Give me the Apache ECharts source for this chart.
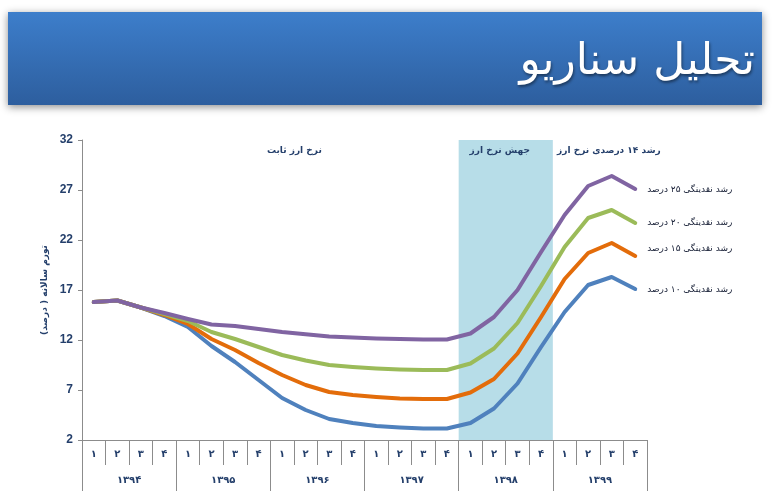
<!DOCTYPE html>
<html>
<head>
<meta charset="utf-8">
<script src="https://cdn.jsdelivr.net/npm/echarts@6/dist/echarts.min.js"></script>
<style>
html,body{margin:0;padding:0;background:#fff;}
#chart{width:772px;height:504px;}
</style>
</head>
<body>
<div id="chart"></div>
<script>
// ---- data ----
var titleText = 'تحلیل سناریو';
var yAxisName = 'تورم سالانه ( درصد)';
var quarters = ['۱','۲','۳','۴','۱','۲','۳','۴','۱','۲','۳','۴','۱','۲','۳','۴','۱','۲','۳','۴','۱','۲','۳','۴'];
var years = ['۱۳۹۴','۱۳۹۵','۱۳۹۶','۱۳۹۷','۱۳۹۸','۱۳۹۹'];
var yTicks = [2, 7, 12, 17, 22, 27, 32];

var seriesNames = ['رشد نقدینگی ۱۰ درصد','رشد نقدینگی ۱۵ درصد','رشد نقدینگی ۲۰ درصد','رشد نقدینگی ۲۵ درصد'];
var liq10 = [15.8,15.95,15.25,14.4,13.3,11.4,9.8,8.0,6.2,5.0,4.1,3.7,3.4,3.25,3.15,3.15,3.7,5.15,7.65,11.3,14.8,17.5,18.3,17.1];
var liq15 = [15.8,15.95,15.25,14.5,13.6,12.1,11.0,9.7,8.5,7.5,6.8,6.5,6.3,6.15,6.1,6.1,6.75,8.1,10.65,14.3,18.1,20.7,21.7,20.4];
var liq20 = [15.8,15.95,15.25,14.6,13.9,12.8,12.1,11.3,10.5,9.95,9.5,9.3,9.15,9.05,9.0,9.0,9.65,11.15,13.7,17.4,21.3,24.2,25.0,23.7];
var liq25 = [15.8,15.95,15.25,14.7,14.1,13.55,13.4,13.1,12.8,12.57,12.35,12.25,12.15,12.1,12.05,12.05,12.65,14.3,17.0,20.8,24.5,27.4,28.4,27.1];

var phaseNames = ['نرخ ارز ثابت','جهش نرخ ارز','رشد ۱۴ درصدی نرخ ارز'];
var phaseStart = [0, 16, 20];
var phaseEnd = [16, 20, 24];

// ---- styles ----
var navy = '#243F6B';
var axisGrey = '#8C8C8C';
var lineColors = ['#4F81BD','#E36C0A','#9BBB59','#8064A2'];
var endLabelOffsets = [[0,1],[0,-7],[0,0],[0,1]];
var phaseFill = ['rgba(0,0,0,0)','#B7DDE8','rgba(0,0,0,0)'];
var phaseOffsets = [[24,0],[-6,0],[9,0]];
var arFont = 'DejaVu Sans';

var chart = echarts.init(document.getElementById('chart'));

var allSeries = [liq10, liq15, liq20, liq25];
var lineSeries = allSeries.map(function (vals, i) {
  return {
    name: seriesNames[i],
    type: 'line',
    xAxisIndex: 0,
    data: vals,
    showSymbol: false,
    symbol: 'none',
    z: 3 + i,
    lineStyle: {width: 4, color: lineColors[i], cap: 'round', join: 'round'},
    itemStyle: {color: lineColors[i]},
    endLabel: {
      show: true,
      formatter: seriesNames[i],
      color: '#141C33',
      fontFamily: arFont,
      fontWeight: 'normal',
      fontSize: 9,
      distance: 12,
      offset: endLabelOffsets[i]
    },
    animation: false
  };
});

var areaData = phaseNames.map(function (nm, i) {
  return [
    {
      xAxis: phaseStart[i],
      itemStyle: {color: phaseFill[i]},
      label: {
        show: true,
        formatter: nm,
        position: 'insideTop',
        distance: 6,
        offset: phaseOffsets[i],
        color: navy,
        fontFamily: arFont,
        fontWeight: 'bold',
        fontSize: 9
      }
    },
    {xAxis: phaseEnd[i]}
  ];
});

var option = {
  animation: false,
  backgroundColor: '#ffffff',
  title: {
    text: titleText,
    right: 12,
    top: 36,
    textStyle: {
      color: '#ffffff',
      fontFamily: arFont,
      fontWeight: 'normal',
      fontSize: 44,
      textShadowColor: 'rgba(0,0,0,0.45)',
      textShadowBlur: 3,
      textShadowOffsetX: 1,
      textShadowOffsetY: 2
    }
  },
  graphic: [{
    type: 'rect',
    z: -1,
    shape: {x: 8, y: 12, width: 754, height: 93},
    style: {
      fill: new echarts.graphic.LinearGradient(0, 0, 0, 1, [
        {offset: 0, color: '#3D7ECB'},
        {offset: 1, color: '#2D5E9E'}
      ]),
      shadowBlur: 8,
      shadowColor: 'rgba(0,0,0,0.45)',
      shadowOffsetY: 2
    }
  }],
  grid: {left: 82, right: 125, top: 140, bottom: 64, containLabel: false},
  xAxis: [
    {
      type: 'category',
      data: quarters,
      position: 'bottom',
      boundaryGap: true,
      axisLine: {show: true, lineStyle: {color: axisGrey, width: 1}},
      axisTick: {show: true, interval: 0, length: 25, lineStyle: {color: axisGrey}},
      axisLabel: {interval: 0, margin: 9, color: navy, fontFamily: arFont, fontSize: 10, fontWeight: 'bold'},
      splitLine: {show: false}
    },
    {
      type: 'category',
      data: years,
      position: 'bottom',
      boundaryGap: true,
      axisLine: {show: false},
      axisTick: {show: true, interval: 0, length: 51, lineStyle: {color: axisGrey}},
      axisLabel: {interval: 0, margin: 35, color: navy, fontFamily: arFont, fontSize: 10, fontWeight: 'bold'},
      splitLine: {show: false}
    },
    {
      type: 'value',
      min: 0,
      max: quarters.length,
      show: false
    }
  ],
  yAxis: {
    type: 'value',
    min: yTicks[0],
    max: yTicks[yTicks.length - 1],
    interval: yTicks[1] - yTicks[0],
    name: yAxisName,
    nameLocation: 'middle',
    nameRotate: 90,
    nameGap: 32,
    nameTextStyle: {color: navy, fontFamily: arFont, fontSize: 9, fontWeight: 'bold'},
    axisLine: {show: true, lineStyle: {color: axisGrey}},
    axisTick: {show: true, length: 4, lineStyle: {color: axisGrey}},
    axisLabel: {color: navy, fontFamily: 'Liberation Sans', fontWeight: 'bold', fontSize: 12, margin: 9},
    splitLine: {show: false}
  },
  series: [{
    name: 'phases',
    type: 'line',
    xAxisIndex: 2,
    data: [],
    silent: true,
    z: 1,
    markArea: {silent: true, data: areaData}
  }].concat(lineSeries)
};

chart.setOption(option);
</script>
</body>
</html>
